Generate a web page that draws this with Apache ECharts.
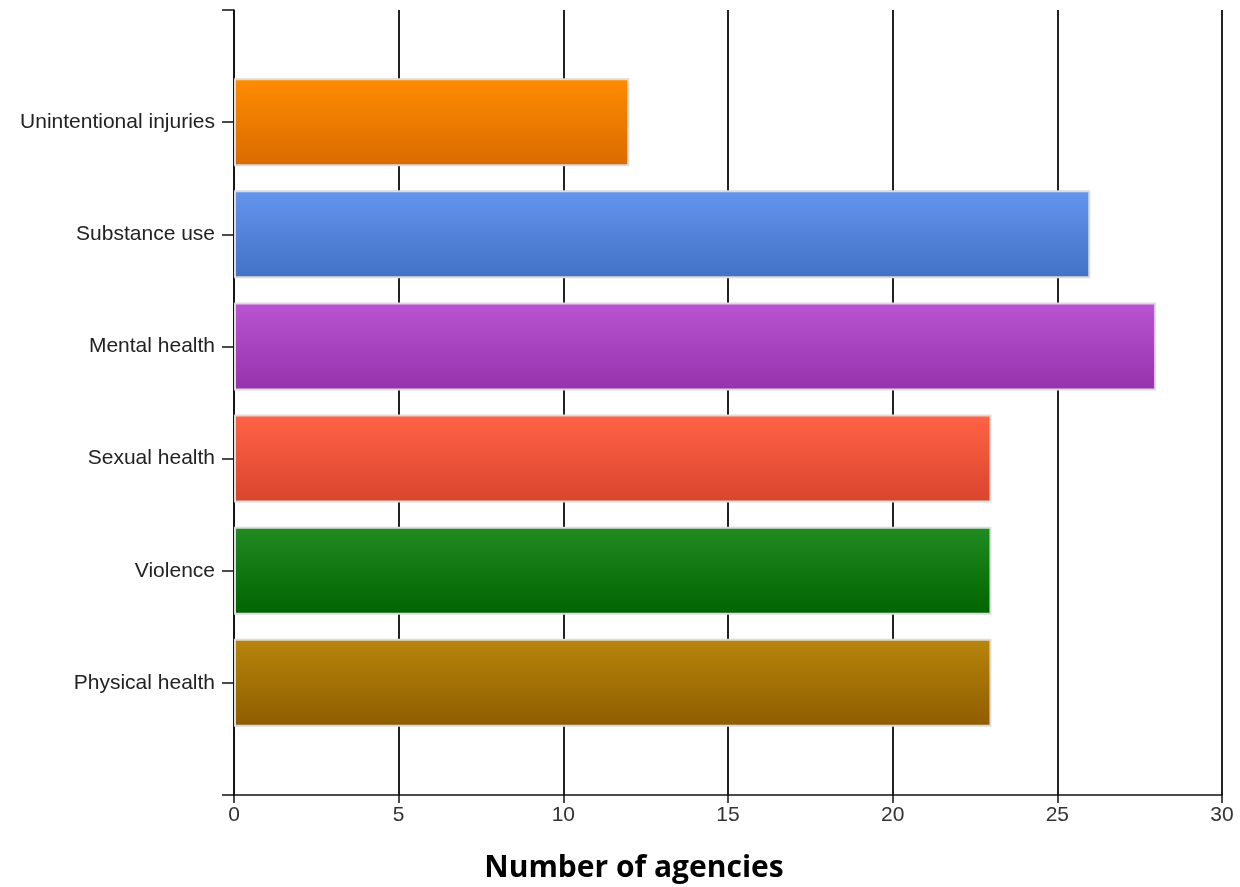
<!DOCTYPE html>
<html><head><meta charset="utf-8">
<script src="https://cdn.jsdelivr.net/npm/echarts@6/dist/echarts.min.js"></script>
<style>html,body{margin:0;padding:0;background:#fff}#c{width:1240px;height:887px}</style>
</head><body><div id="c"></div>
<script>
const categories = ['', 'Physical health', 'Violence', 'Sexual health', 'Mental health', 'Substance use', 'Unintentional injuries', ''];
const values = [null, 23, 23, 23, 28, 26, 12, null];
const xTicks = [0, 5, 10, 15, 20, 25, 30];
const barColors = [
  null,
  ['#B8860B', '#8E5C00'],
  ['#228B22', '#006400'],
  ['#FF6347', '#D9442C'],
  ['#BA55D3', '#9632AC'],
  ['#6495ED', '#4271C6'],
  ['#FF8C00', '#DA6A00'],
  null
];
const chart = echarts.init(document.getElementById('c'));
const data = values.map((v, i) => v == null ? null : {
  value: v,
  itemStyle: {
    color: new echarts.graphic.LinearGradient(0, 0, 0, 1, [
      {offset: 0, color: barColors[i][0]},
      {offset: 1, color: barColors[i][1]}
    ])
  }
});
chart.setOption({
  animation: false,
  grid: {left: 234, right: 18, top: 10, bottom: 92, containLabel: false},
  title: {
    text: 'Number of agencies',
    left: 629, top: 848, textAlign: 'center',
    textStyle: {fontFamily: 'Open Sans', fontWeight: 'bold', fontSize: 30, color: '#000'}
  },
  xAxis: {
    type: 'value', min: xTicks[0], max: xTicks[xTicks.length - 1], interval: 5,
    axisLine: {show: true, lineStyle: {color: '#111', width: 1.5}},
    axisTick: {show: true, length: 8, lineStyle: {color: '#111', width: 1.5}},
    axisLabel: {color: '#333', fontSize: 21, fontFamily: 'Liberation Sans', margin: 10},
    splitLine: {show: true, lineStyle: {color: '#222', width: 2}}
  },
  yAxis: {
    type: 'category', data: categories, boundaryGap: false,
    axisLine: {show: true, lineStyle: {color: '#111', width: 1.5}},
    axisTick: {show: true, length: 12, lineStyle: {color: '#111', width: 1.5}},
    axisLabel: {color: '#222', fontSize: 21, fontFamily: 'Liberation Sans', margin: 19, interval: 0},
    splitLine: {show: false}
  },
  series: [{
    type: 'bar', data: data, barWidth: 88,
    itemStyle: {borderColor: '#dcdcdc', borderWidth: 2}
  }]
});
</script></body></html>
